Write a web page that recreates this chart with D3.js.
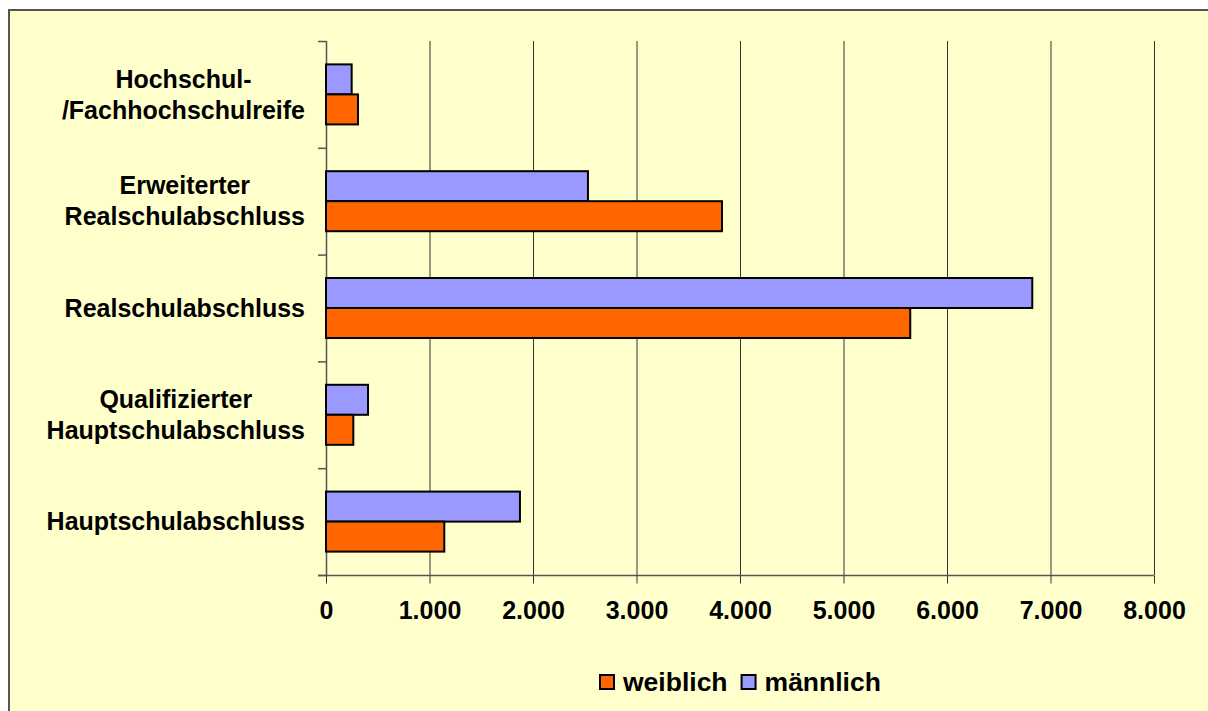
<!DOCTYPE html>
<html><head><meta charset="utf-8">
<script src="https://cdn.jsdelivr.net/npm/d3@7"></script>
<style>
html,body{margin:0;padding:0;background:#fff;overflow:hidden}
text{font-family:Arial,"Liberation Sans",sans-serif;font-weight:bold;fill:#000}
</style></head>
<body><svg id="c" width="1208" height="711" style="display:block"></svg>
<script>
const categories = ["Hochschul-/Fachhochschulreife","Erweiterter Realschulabschluss","Realschulabschluss","Qualifizierter Hauptschulabschluss","Hauptschulabschluss"];
const labelLines = [["Hochschul-","/Fachhochschulreife"],["Erweiterter","Realschulabschluss"],["Realschulabschluss"],["Qualifizierter","Hauptschulabschluss"],["Hauptschulabschluss"]];
const seriesNames = ["weiblich","männlich"];
const weiblich = [309, 3826, 5645, 264, 1143];
const maennlich = [248, 2531, 6824, 406, 1874];
const xTicks = [0,1000,2000,3000,4000,5000,6000,7000,8000];
const colors = {"weiblich":"#FF6600","männlich":"#9999FF"};

const svg = d3.select("#c");
const FS = 25;
// frame (extends beyond the right and bottom edges)
svg.append("rect").attr("x",9).attr("y",10).attr("width",2000).attr("height",2000)
  .attr("fill","#FFFFCC").attr("stroke","#555").attr("stroke-width",2);

const x = d3.scaleLinear().domain([0,8000]).range([326,1154]);
const y = d3.scaleBand().domain(categories).range([41,575]).paddingInner(0.438).paddingOuter(0.219);
const sub = d3.scaleBand().domain(["männlich","weiblich"]).range([0,y.bandwidth()]);
const de = d3.formatLocale({decimal:",",thousands:".",grouping:[3],currency:["","€"]});
const fmt = de.format(",");

// gridlines
svg.append("g").selectAll("line").data(xTicks.slice(1)).join("line")
  .attr("x1",d=>x(d)+0.5).attr("x2",d=>x(d)+0.5).attr("y1",41).attr("y2",575)
  .attr("stroke","#333").attr("stroke-width",1);

// x axis
const xa = svg.append("g").attr("transform","translate(0,575.5)")
  .call(d3.axisBottom(x).tickValues(xTicks).tickFormat(fmt).tickSize(8).tickPadding(18));
xa.select(".domain").attr("stroke","#555").attr("stroke-width",1.5).attr("d","M318,0H1154");
xa.selectAll(".tick line").attr("stroke","#333");
xa.selectAll(".tick text").attr("font-size",FS).attr("font-family","Arial,'Liberation Sans',sans-serif").attr("font-weight","bold").attr("fill","#000");

// y axis
const step = y.step();
const yTickPos = d3.range(categories.length+1).map(i=>41+i*step);
svg.append("line").attr("x1",326.5).attr("x2",326.5).attr("y1",41).attr("y2",575).attr("stroke","#555").attr("stroke-width",1.5);
svg.append("g").selectAll("line").data(yTickPos).join("line")
  .attr("x1",318).attr("x2",326).attr("y1",d=>d+0.5).attr("y2",d=>d+0.5).attr("stroke","#555").attr("stroke-width",1.5);

// bars
const rows = categories.map((c,i)=>({c, weiblich:weiblich[i], "männlich":maennlich[i]}));
const g = svg.append("g");
rows.forEach(r=>{
  ["männlich","weiblich"].forEach(s=>{
    g.append("rect").attr("x",x(0)).attr("y",y(r.c)+sub(s))
     .attr("width",x(r[s])-x(0)).attr("height",sub.bandwidth())
     .attr("fill",colors[s]).attr("stroke","#000").attr("stroke-width",2);
  });
});

// category labels
const lh = 31;
categories.forEach((c,i)=>{
  const lines = labelLines[i];
  const grp = svg.append("g");
  const ts = lines.map((l,j)=>grp.append("text").attr("font-size",FS).attr("text-anchor","middle")
     .attr("y", y(c)+y.bandwidth()/2 + (j-(lines.length-1)/2)*lh).attr("dy","0.35em").text(l));
  const maxW = d3.max(ts, t=>t.node().getComputedTextLength());
  ts.forEach(t=>t.attr("x",305-maxW/2));
});

// legend
const leg = svg.append("g");
let lx = 600;
seriesNames.forEach(s=>{
  leg.append("rect").attr("x",lx).attr("y",675).attr("width",14).attr("height",14)
    .attr("fill",colors[s]).attr("stroke","#000").attr("stroke-width",2);
  const t = leg.append("text").attr("x",lx+23).attr("y",682).attr("dy","0.35em").attr("font-size",26.5).text(s);
  lx += 23 + t.node().getComputedTextLength() + 14;
});
</script></body></html>
